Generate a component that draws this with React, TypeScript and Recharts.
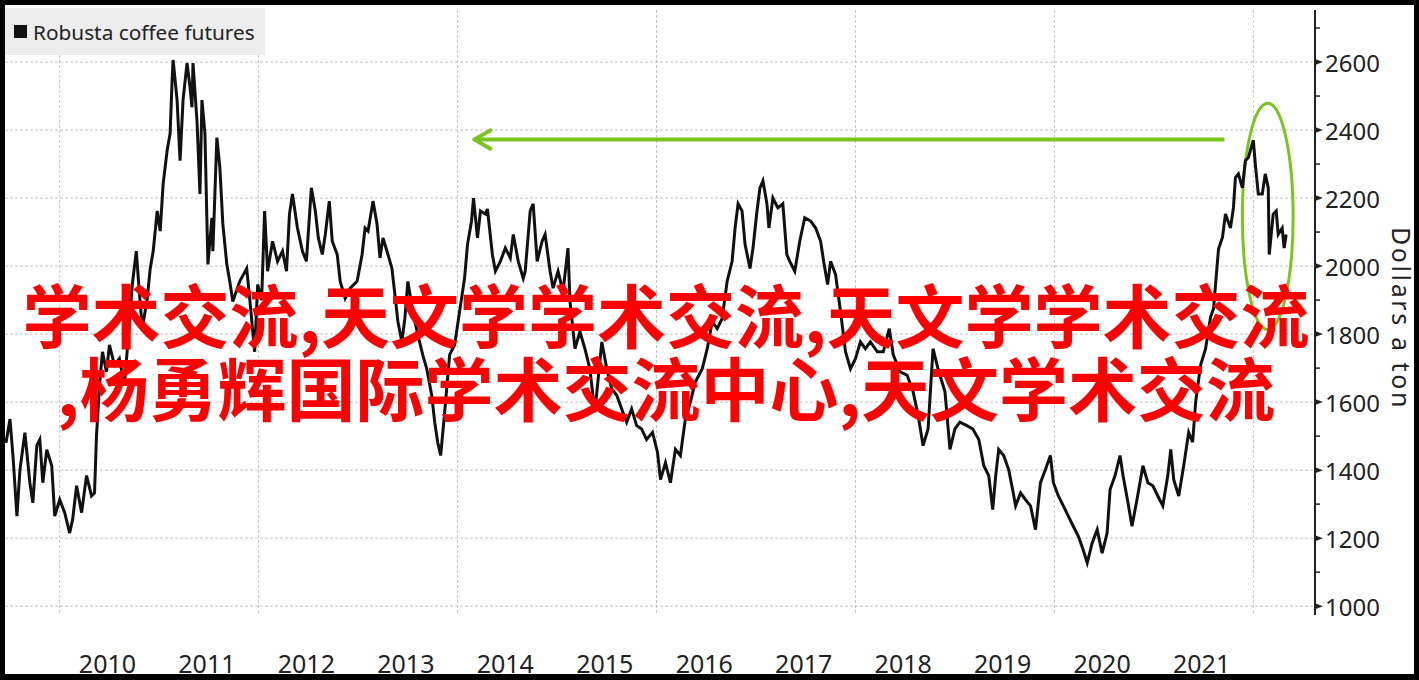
import { LineChart, Line, XAxis, YAxis, CartesianGrid, Legend, ReferenceLine, ReferenceArea } from 'recharts';

// decimal years
const times = [
  2009.46, 2009.5, 2009.53, 2009.57, 2009.6, 2009.65, 2009.7, 2009.73, 2009.77, 2009.8,
  2009.83, 2009.87, 2009.92, 2009.95, 2010.0, 2010.05, 2010.1, 2010.13, 2010.17, 2010.22,
  2010.27, 2010.32, 2010.35, 2010.37, 2010.4, 2010.43, 2010.47, 2010.5, 2010.55, 2010.6,
  2010.65, 2010.7, 2010.73, 2010.77, 2010.8, 2010.83, 2010.88, 2010.91, 2010.94, 2010.98,
  2011.01, 2011.04, 2011.08, 2011.11, 2011.13, 2011.14, 2011.18, 2011.21, 2011.24, 2011.28,
  2011.31, 2011.33, 2011.34, 2011.38, 2011.41, 2011.43, 2011.46, 2011.49, 2011.53, 2011.54,
  2011.58, 2011.61, 2011.64, 2011.68, 2011.71, 2011.74, 2011.81, 2011.88, 2011.91, 2011.96,
  2011.99, 2012.03, 2012.06, 2012.09, 2012.14, 2012.19, 2012.24, 2012.28, 2012.31, 2012.34,
  2012.39, 2012.44, 2012.48, 2012.53, 2012.57, 2012.6, 2012.64, 2012.67, 2012.71, 2012.74,
  2012.79, 2012.82, 2012.87, 2012.92, 2012.99, 2013.04, 2013.07, 2013.1, 2013.15, 2013.19,
  2013.22, 2013.25, 2013.3, 2013.34, 2013.37, 2013.4, 2013.44, 2013.47, 2013.5, 2013.55,
  2013.6, 2013.65, 2013.69, 2013.74, 2013.77, 2013.8, 2013.83, 2013.87, 2013.92, 2013.97,
  2014.02, 2014.07, 2014.1, 2014.14, 2014.16, 2014.2, 2014.23, 2014.28, 2014.3, 2014.35,
  2014.38, 2014.43, 2014.48, 2014.53, 2014.56, 2014.61, 2014.66, 2014.68, 2014.73, 2014.76,
  2014.8, 2014.85, 2014.88, 2014.93, 2014.96, 2015.01, 2015.06, 2015.11, 2015.13, 2015.18,
  2015.23, 2015.28, 2015.33, 2015.38, 2015.45, 2015.5, 2015.55, 2015.6, 2015.65, 2015.7,
  2015.75, 2015.8, 2015.85, 2015.9, 2015.96, 2016.01, 2016.04, 2016.09, 2016.14, 2016.19,
  2016.24, 2016.29, 2016.34, 2016.39, 2016.46, 2016.51, 2016.56, 2016.61, 2016.66, 2016.71,
  2016.76, 2016.79, 2016.82, 2016.86, 2016.89, 2016.94, 2016.97, 2017.01, 2017.04, 2017.07,
  2017.11, 2017.13, 2017.17, 2017.22, 2017.27, 2017.31, 2017.34, 2017.39, 2017.44, 2017.49,
  2017.55, 2017.6, 2017.65, 2017.68, 2017.72, 2017.75, 2017.8, 2017.85, 2017.9, 2017.95,
  2018.0, 2018.05, 2018.1, 2018.15, 2018.22, 2018.28, 2018.34, 2018.38, 2018.45, 2018.52,
  2018.58, 2018.63, 2018.68, 2018.73, 2018.78, 2018.83, 2018.9, 2018.95, 2019.0, 2019.05,
  2019.12, 2019.18, 2019.24, 2019.29, 2019.34, 2019.38, 2019.41, 2019.44, 2019.49, 2019.54,
  2019.58, 2019.61, 2019.66, 2019.71, 2019.76, 2019.81, 2019.86, 2019.91, 2019.96, 2019.99,
  2020.04, 2020.09, 2020.14, 2020.19, 2020.24, 2020.29, 2020.33, 2020.38, 2020.43, 2020.48,
  2020.53, 2020.56, 2020.61, 2020.66, 2020.69, 2020.74, 2020.78, 2020.83, 2020.89, 2020.94,
  2020.99, 2021.04, 2021.09, 2021.14, 2021.17, 2021.2, 2021.25, 2021.3, 2021.35, 2021.39,
  2021.42, 2021.47, 2021.52, 2021.57, 2021.6, 2021.65, 2021.69, 2021.72, 2021.77, 2021.8,
  2021.82, 2021.85, 2021.89, 2021.92, 2021.95, 2022.0, 2022.02, 2022.05, 2022.09, 2022.12,
  2022.15, 2022.16, 2022.2, 2022.23, 2022.25, 2022.29, 2022.31, 2022.33,
];

// dollars a ton
const prices = [
  1480, 1550, 1443, 1265, 1400, 1510, 1363, 1304, 1473, 1490,
  1363, 1460, 1413, 1265, 1313, 1275, 1215, 1255, 1354, 1275,
  1384, 1324, 1333, 1502, 1650, 1748, 1689, 1768, 1709, 1728,
  1650, 1828, 1946, 2044, 1925, 1816, 1905, 1993, 2044, 2162,
  2103, 2242, 2340, 2390, 2547, 2606, 2488, 2310, 2488, 2597,
  2526, 2467, 2597, 2428, 2212, 2488, 2390, 2005, 2142, 2044,
  2378, 2290, 2124, 2005, 1955, 1896, 1955, 1993, 1905, 1748,
  1946, 1900, 2162, 1985, 2073, 2014, 2044, 1985, 2153, 2212,
  2112, 2044, 2014, 2230, 2162, 2083, 2034, 2093, 2191, 2073,
  2034, 1955, 1905, 1935, 1955, 2034, 2112, 2103, 2191, 2124,
  2024, 2083, 2034, 1993, 1916, 1837, 1777, 1846, 1955, 1866,
  1798, 1739, 1698, 1620, 1541, 1482, 1443, 1570, 1739, 1768,
  1866, 1964, 2064, 2132, 2200, 2083, 2162, 2153, 2168, 2034,
  1985, 2014, 2053, 2024, 2093, 2014, 1964, 1985, 2162, 2183,
  2014, 2073, 2093, 1985, 1935, 1985, 1925, 2053, 1896, 1757,
  1807, 1757, 1698, 1570, 1777, 1698, 1639, 1620, 1580, 1541,
  1580, 1531, 1521, 1490, 1511, 1452, 1372, 1422, 1363, 1461,
  1443, 1550, 1600, 1659, 1698, 1757, 1837, 1816, 1846, 1955,
  2014, 2112, 2183, 2162, 2064, 1993, 2053, 2162, 2230, 2251,
  2183, 2112, 2200, 2171, 2183, 2034, 2014, 1985, 2073, 2142,
  2132, 2112, 2073, 2014, 1946, 2014, 1975, 1866, 1748, 1698,
  1728, 1777, 1757, 1777, 1748, 1748, 1816, 1739, 1689, 1679,
  1630, 1561, 1472, 1521, 1757, 1698, 1630, 1461, 1521, 1541,
  1531, 1521, 1490, 1413, 1384, 1284, 1384, 1461, 1443, 1402,
  1343, 1295, 1333, 1313, 1295, 1225, 1363, 1402, 1443, 1363,
  1324, 1295, 1265, 1235, 1206, 1165, 1127, 1186, 1225, 1156,
  1215, 1343, 1384, 1443, 1384, 1304, 1235, 1313, 1413, 1363,
  1354, 1324, 1295, 1384, 1461, 1372, 1324, 1413, 1511, 1482,
  1600, 1709, 1757, 1850, 1875, 2050, 2085, 2153, 2112, 2171,
  2260, 2271, 2230, 2310, 2319, 2370, 2300, 2212, 2212, 2271,
  2230, 2034, 2153, 2162, 2093, 2112, 2053, 2093,
];

const yearLabels = [2010, 2011, 2012, 2013, 2014, 2015, 2016, 2017, 2018, 2019, 2020, 2021];
const gridYears = [2010, 2012, 2014, 2016, 2018, 2020, 2022];
const priceLabels = [1000, 1200, 1400, 1600, 1800, 2000, 2200, 2400, 2600];
const priceTicks = [1000, 1100, 1200, 1300, 1400, 1500, 1600, 1700, 1800, 1900, 2000, 2100, 2200, 2300, 2400, 2500, 2600, 2700];

// green annotation: arrow back to the 2014 level, ring round the latest peak
const arrowLevel = 2372;
const arrowStart = 2021.71;
const arrowTip = 2014.17;
const arrowHeadBack = 2014.33;
const arrowHeadSpread = 27;
const ringYears = [2021.89, 2022.4];
const ringPrices = [1813, 2479];

const seriesData = times.map((t, i) => ({ t, price: prices[i] }));

const GREEN = '#7cc520';
const INK = '#222';
const FONT = '"Noto Sans", "Open Sans", sans-serif';

function YearTick(props: any) {
  const { x, y, payload } = props;
  return (
    <text x={x - 2} y={y + 48} textAnchor="middle" dominantBaseline="central" fontFamily={FONT} fontSize={25} fill={INK}>
      {Math.floor(payload.value)}
    </text>
  );
}

function PriceTick(props: any) {
  const { x, y, payload } = props;
  const v = payload.value;
  if (!priceLabels.includes(v)) {
    return <line x1={x} x2={x + 5} y1={y} y2={y} stroke={INK} strokeWidth={1.5} />;
  }
  return (
    <g>
      <polygon points={`${x},${y - 3} ${x + 8},${y} ${x},${y + 3}`} fill={INK} />
      <text x={x + 10} y={y} textAnchor="start" dominantBaseline="central" fontFamily={FONT} fontSize={24} fill={INK}>
        {v}
      </text>
    </g>
  );
}

function LegendBox() {
  return (
    <div
      style={{
        background: '#ededed',
        width: 262,
        height: 47,
        display: 'flex',
        alignItems: 'center',
        paddingLeft: 11,
        boxSizing: 'border-box',
        fontFamily: FONT,
        fontSize: 20.8,
        color: INK,
        whiteSpace: 'nowrap',
      }}
    >
      <span style={{ display: 'inline-block', width: 13, height: 13, background: '#111', marginRight: 6 }} />
      Robusta coffee futures
    </div>
  );
}

export default function App() {
  return (
    <div style={{ position: 'absolute', left: 0, top: 0, width: 1419, height: 680, background: '#fff', overflow: 'hidden' }}>
      <LineChart width={1419} height={680} data={seriesData} margin={{ top: 10, right: 0, bottom: 0, left: 5 }}>
        <CartesianGrid
          stroke="#c4c4c4"
          strokeDasharray="3 2"
          horizontalValues={priceLabels}
          verticalValues={gridYears}
        />
        <XAxis
          dataKey="t"
          type="number"
          domain={[2009.45, 2022.62]}
          allowDataOverflow
          ticks={yearLabels.map((y) => y + 0.5)}
          interval={0}
          axisLine={false}
          tickLine={false}
          tickSize={0}
          tickMargin={0}
          height={65}
          tick={<YearTick />}
        />
        <YAxis
          orientation="right"
          domain={[974, 2753]}
          allowDataOverflow
          ticks={priceTicks}
          interval={0}
          width={104}
          axisLine={{ stroke: INK, strokeWidth: 2 }}
          tickLine={false}
          tickSize={0}
          tickMargin={0}
          tick={<PriceTick />}
          label={{
            content: (p: any) => {
              const vb = p.viewBox;
              const cx = vb.x + 87;
              const cy = vb.y + vb.height / 2 + 6;
              return (
                <text
                  x={cx}
                  y={cy}
                  transform={`rotate(90, ${cx}, ${cy})`}
                  textAnchor="middle"
                  dominantBaseline="central"
                  fontFamily={FONT}
                  fontSize={25}
                  letterSpacing={2.6}
                  fill={INK}
                >
                  Dollars a ton
                </text>
              );
            },
          }}
        />
        <Legend
          layout="horizontal"
          verticalAlign="middle"
          align="center"
          wrapperStyle={{ top: 8, left: 3, width: 262, height: 47 }}
          content={() => <LegendBox />}
        />
        <Line
          type="linear"
          dataKey="price"
          stroke="#111"
          strokeWidth={3}
          strokeLinejoin="miter"
          dot={false}
          activeDot={false}
          isAnimationActive={false}
        />
        <ReferenceLine
          segment={[{ x: arrowTip, y: arrowLevel }, { x: arrowStart, y: arrowLevel }]}
          stroke={GREEN}
          strokeWidth={4}
        />
        <ReferenceLine
          segment={[{ x: arrowTip, y: arrowLevel }, { x: arrowHeadBack, y: arrowLevel + arrowHeadSpread }]}
          stroke={GREEN}
          strokeWidth={4}
          strokeLinecap="round"
        />
        <ReferenceLine
          segment={[{ x: arrowTip, y: arrowLevel }, { x: arrowHeadBack, y: arrowLevel - arrowHeadSpread }]}
          stroke={GREEN}
          strokeWidth={4}
          strokeLinecap="round"
        />
        <ReferenceArea
          x1={ringYears[0]}
          x2={ringYears[1]}
          y1={ringPrices[0]}
          y2={ringPrices[1]}
          shape={(p: any) => (
            <ellipse
              cx={p.x + p.width / 2}
              cy={p.y + p.height / 2}
              rx={p.width / 2}
              ry={p.height / 2}
              fill="none"
              stroke={GREEN}
              strokeWidth={3}
            />
          )}
        />
      </LineChart>
      <div
        style={{
          position: 'absolute',
          left: 0,
          top: 277,
          width: 1332,
          textAlign: 'center',
          fontFamily: '"Noto Sans CJK SC", sans-serif',
          fontWeight: 700,
          fontSize: 69,
          lineHeight: '73px',
          color: '#ff0000',
          whiteSpace: 'nowrap',
          pointerEvents: 'none',
        }}
      >
        <div>学术交流,天文学学术交流,天文学学术交流</div>
        <div>,杨勇辉国际学术交流中心,天文学术交流</div>
      </div>
      <div
        style={{
          position: 'absolute',
          inset: 0,
          border: '5px solid #000',
          borderBottomWidth: 6,
          boxSizing: 'border-box',
          pointerEvents: 'none',
        }}
      />
    </div>
  );
}
